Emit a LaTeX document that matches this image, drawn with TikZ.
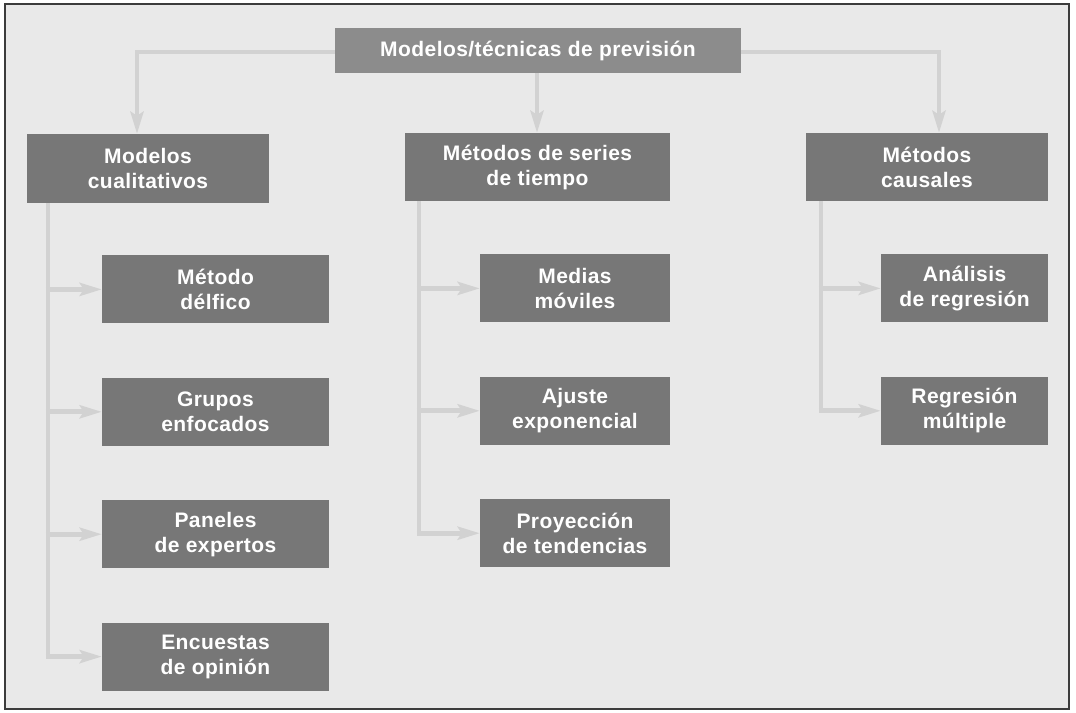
\documentclass[tikz,border=0pt]{standalone}
\definecolor{frameBg}{RGB}{233, 233, 233}
\definecolor{frameLine}{RGB}{60, 60, 60}
\definecolor{topGray}{RGB}{140, 140, 140}
\definecolor{boxGray}{RGB}{119, 119, 119}
\definecolor{linkGray}{RGB}{210, 210, 210}
\usepackage{fontspec}
\setmainfont{Liberation Sans}[LetterSpace=2]
\usepackage{tikz}
\usetikzlibrary{positioning, calc, arrows.meta}

\begin{document}
\begin{tikzpicture}[
          x=1pt, y=-1pt,
          node distance=54pt,
          box/.style={rectangle, fill=boxGray, text=white, align=center, inner sep=0pt,
                      minimum height=68pt, font=\fontsize{21}{25}\selectfont\bfseries},
          topbox/.style={box, fill=topGray, minimum width=406pt, minimum height=45pt},
          arrow/.style={-{Stealth[length=22pt, width=13pt, inset=4pt]}, line width=4.8pt, draw=linkGray},
          trunk/.style={line width=4.8pt, draw=linkGray}
        ]
          \useasboundingbox[fill=white] (0,0) rectangle (1076,712);
          \draw[frameLine, fill=frameBg, line width=1.2pt] (5,4) rectangle (1069,709);

          \node[topbox] (top) at (538,50.5) {Modelos/técnicas de previsión};
          \node[box, minimum width=242pt, minimum height=69pt] (cual) at (148,168.5) {Modelos\\cualitativos};
          \node[box, minimum width=265pt] (series) at (537.5,167) {Métodos de series\\de tiempo};
          \node[box, minimum width=242pt] (causal) at (927,167) {Métodos\\causales};

          \node[box, minimum width=227pt, below=52pt of cual, xshift=67.5pt] (delf) {Método\\délfico};
          \node[box, minimum width=227pt, below=of delf] (grup) {Grupos\\enfocados};
          \node[box, minimum width=227pt, below=of grup] (pan) {Paneles\\de expertos};
          \node[box, minimum width=227pt, below=of pan] (enc) {Encuestas\\de opinión};

          \node[box, minimum width=190pt, below=53pt of series, xshift=37.5pt] (med) {Medias\\móviles};
          \node[box, minimum width=190pt, below=of med] (aj) {Ajuste\\exponencial};
          \node[box, minimum width=190pt, below=of aj] (proy) {Proyección\\de tendencias};

          \node[box, minimum width=167pt, below=53pt of causal, xshift=37.5pt] (reg) {Análisis\\de regresión};
          \node[box, minimum width=167pt, below=of reg] (mult) {Regresión\\múltiple};

          \draw[arrow] ([yshift=-1.5pt]top.west) -| ([xshift=-11pt]cual.north);
          \draw[arrow] ([xshift=-1pt]top.south) -- ([xshift=-0.5pt]series.north);
          \draw[arrow] ([yshift=-1.5pt]top.east) -| ([xshift=12pt]causal.north);

          \coordinate (lt) at ([xshift=-100pt]cual.south);
          \coordinate (mt) at ([xshift=-118.5pt]series.south);
          \coordinate (rt) at ([xshift=-106pt]causal.south);

          \draw[trunk] (lt) -- (lt |- enc.west);
          \draw[trunk] (mt) -- (mt |- proy.west);
          \draw[trunk] (rt) -- (rt |- mult.west);

          \foreach \n in {delf, grup, pan, enc}
            \draw[arrow] ([xshift=-2.4pt]lt |- \n.west) -- (\n.west);
          \foreach \n in {med, aj, proy}
            \draw[arrow] ([xshift=-2.4pt]mt |- \n.west) -- (\n.west);
          \foreach \n in {reg, mult}
            \draw[arrow] ([xshift=-2.4pt]rt |- \n.west) -- (\n.west);
        \end{tikzpicture}
\end{document}
